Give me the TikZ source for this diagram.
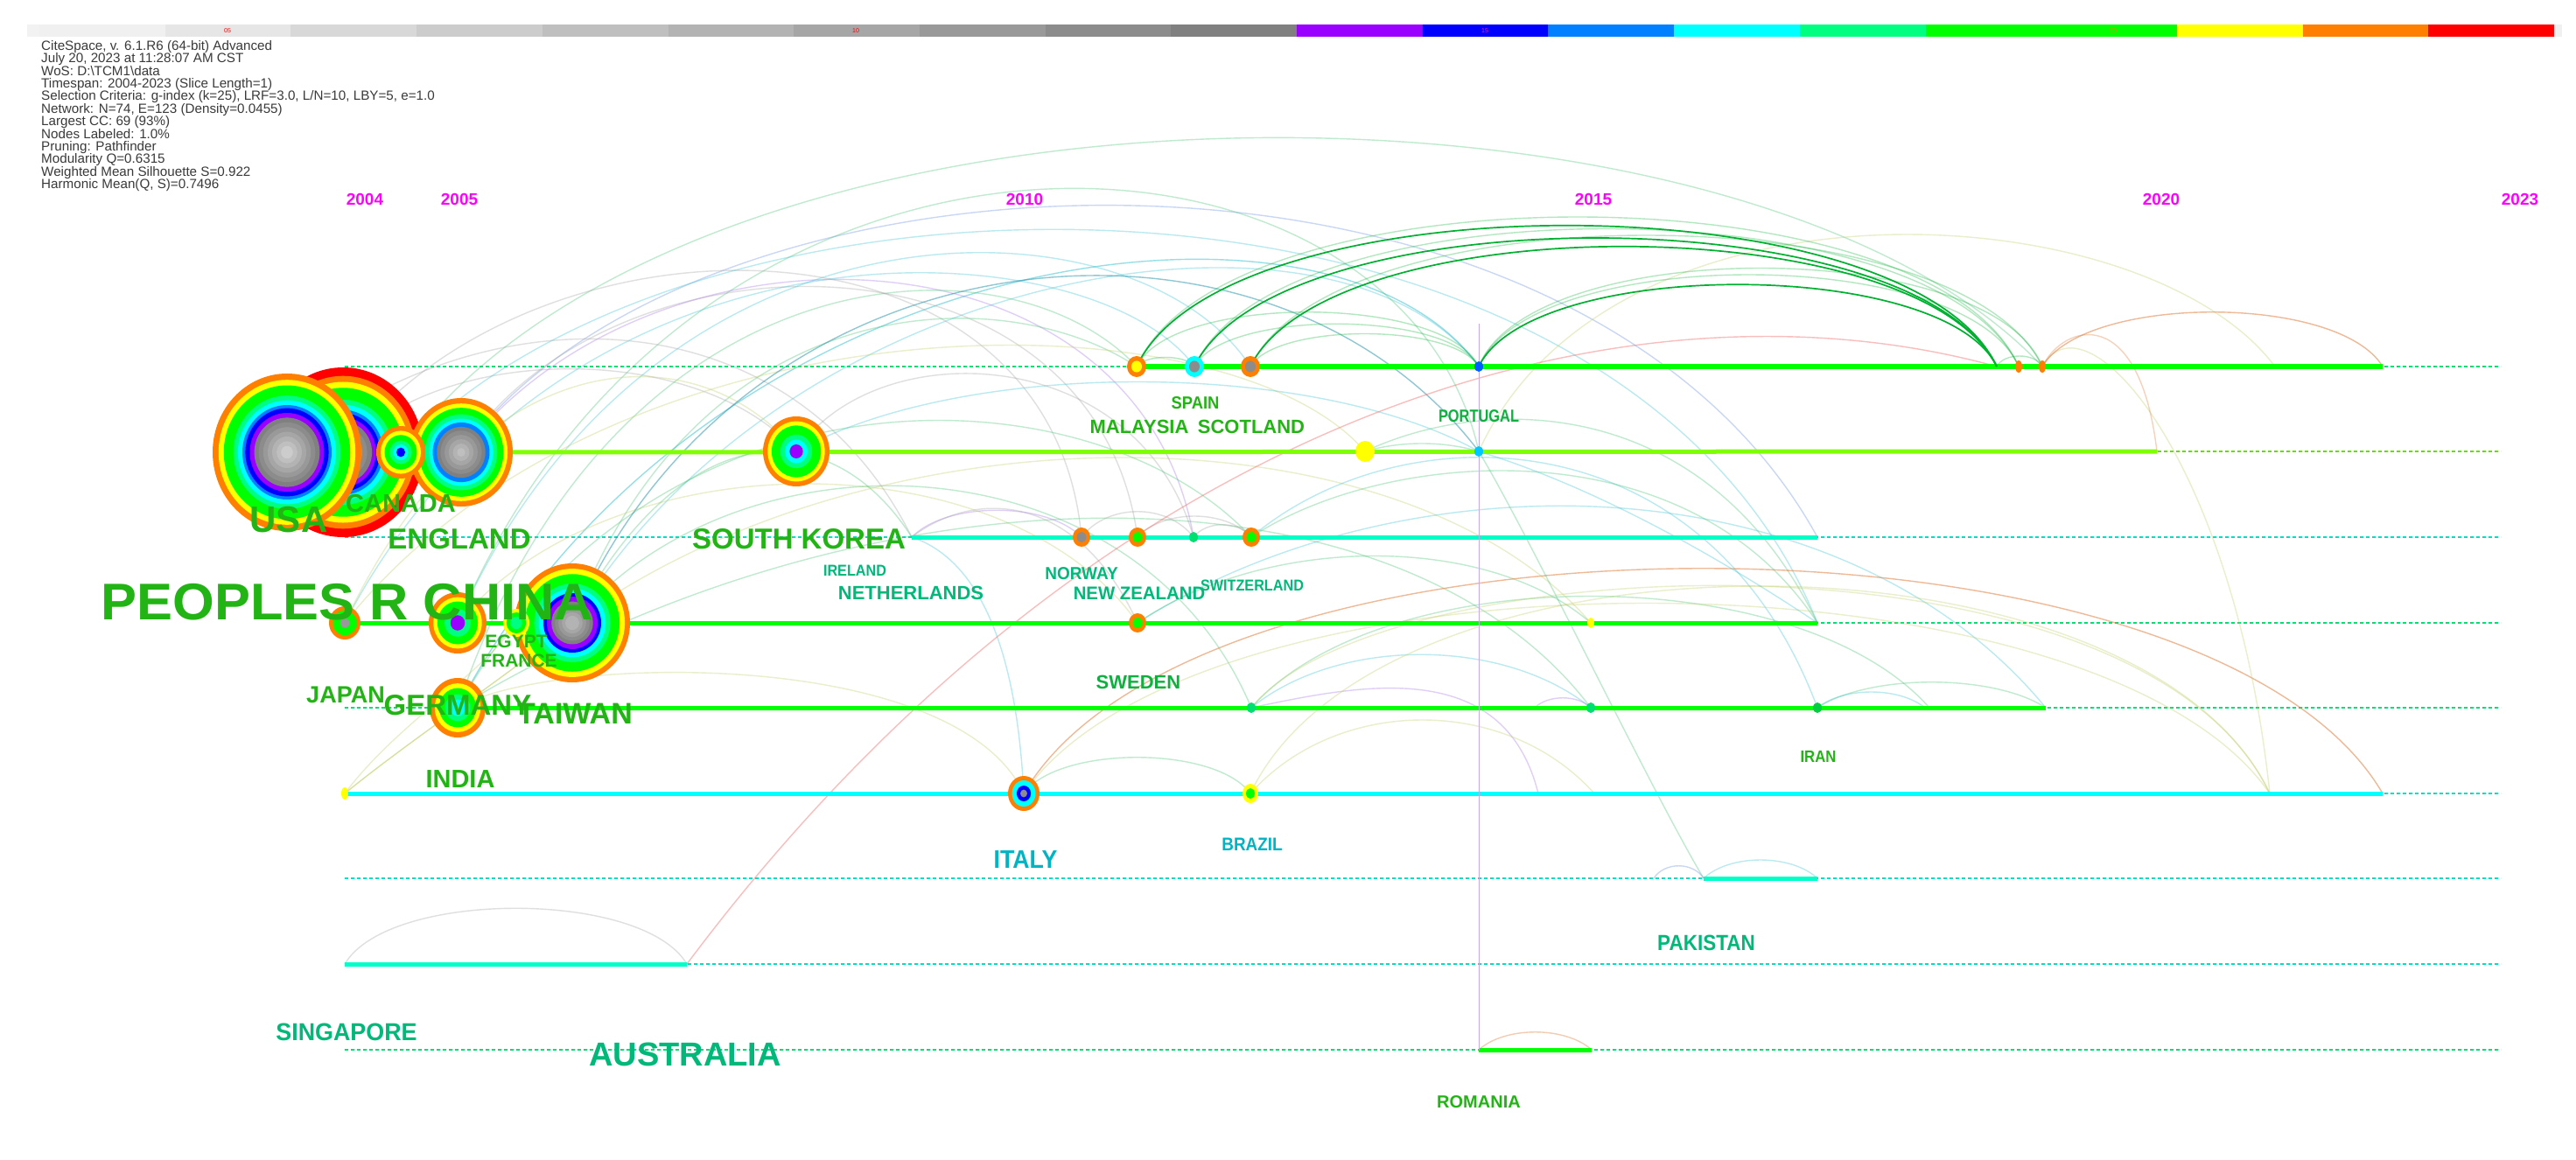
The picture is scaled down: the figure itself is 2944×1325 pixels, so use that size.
\documentclass[tikz,border=0pt]{standalone}
\usepackage{fontspec}
\setmainfont{Liberation Sans}
\usepackage{graphicx}
% palette
\definecolor{g0}{HTML}{F0F0F0}\definecolor{g1}{HTML}{E6E6E6}\definecolor{g2}{HTML}{D8D8D8}
\definecolor{g3}{HTML}{CCCCCC}\definecolor{g4}{HTML}{BFBFBF}\definecolor{g5}{HTML}{B3B3B3}
\definecolor{g6}{HTML}{A6A6A6}\definecolor{g7}{HTML}{999999}\definecolor{g8}{HTML}{8C8C8C}
\definecolor{g9}{HTML}{808080}
\definecolor{pu}{HTML}{9900FF}\definecolor{bl}{HTML}{0000FF}\definecolor{lb}{HTML}{0080FF}
\definecolor{cy}{HTML}{00FFFF}\definecolor{aq}{HTML}{00FF80}\definecolor{gr}{HTML}{00FF00}
\definecolor{ye}{HTML}{FFFF00}\definecolor{orr}{HTML}{FF8000}\definecolor{rd}{HTML}{FF0000}
\definecolor{chart}{HTML}{80FF00}\definecolor{aqline}{HTML}{00FFC8}
\definecolor{dsG}{HTML}{00E070}\definecolor{dsC}{HTML}{00E0C0}\definecolor{dsY}{HTML}{60E000}
\definecolor{acG}{HTML}{40C070}\definecolor{acC}{HTML}{30C0D0}\definecolor{acB}{HTML}{6088E0}
\definecolor{acK}{HTML}{A0A0A0}\definecolor{acP}{HTML}{A070E8}\definecolor{acY}{HTML}{C0CC60}
\definecolor{acO}{HTML}{E08040}\definecolor{acR}{HTML}{F07070}\definecolor{dkG}{HTML}{00B030}
\definecolor{acT}{HTML}{2090A8}
\definecolor{lgreen}{HTML}{22B414}\definecolor{lgreen2}{HTML}{10B040}\definecolor{lteal}{HTML}{00B87A}
\definecolor{lcyan}{HTML}{00B4C4}\definecolor{infogray}{HTML}{3A3A3A}
\definecolor{ptc}{HTML}{0060FF}\definecolor{pt1c}{HTML}{00C8FF}\definecolor{dotg}{HTML}{00E070}
\definecolor{dotg2}{HTML}{00D040}\definecolor{vline}{HTML}{C8A8F0}
\definecolor{bar15}{HTML}{FF20A0}\definecolor{yrmag}{HTML}{FF00FF}

\tikzset{
 rowline/.style={line width=5pt},
 dashrow/.style={line width=1.3pt, dash pattern=on 4pt off 3pt},
 arcl/.style={line width=1.4pt, draw opacity=0.33},
 aG/.style={arcl, draw=acG}, aC/.style={arcl, draw=acC}, aB/.style={arcl, draw=acB},
 aK/.style={arcl, draw=acK}, aP/.style={arcl, draw=acP}, aY/.style={arcl, draw=acY},
 aO/.style={arcl, draw=acO, draw opacity=0.55}, aR/.style={arcl, draw=acR, draw opacity=0.45},
 aT/.style={arcl, draw=acT, draw opacity=0.5},
 dG/.style={line width=1.7pt, draw=dkG},
 lG/.style={line width=1.4pt, draw=dkG, draw opacity=0.3},
 yearlab/.style={anchor=base, inner sep=0pt, text=yrmag, font=\fontsize{19}{19}\selectfont\bfseries},
 infolab/.style={anchor=base west, inner sep=0pt, text=infogray, font=\fontsize{15.2}{15}\selectfont},
 barlab/.style={anchor=center, inner sep=0pt, font=\fontsize{7}{7}\selectfont},
}
\newcommand\ringnode[4]{\foreach \f/\c in {#4}{\fill[\c] (#1) ellipse [x radius={(#2)*(\f)*1pt}, y radius={(#3)*(\f)*1pt}];}}
\newcommand\lab[7]{\node[anchor=base, inner sep=0pt, text=#6] (#1) at (#2,#3) {\fontsize{#4}{#4}\selectfont\bfseries\scalebox{#5}[1]{#7}};}

\begin{document}
\begin{tikzpicture}[x=1pt,y=-1pt]
\useasboundingbox (0,0) rectangle (2944,1325);
\fill[white] (0,0) rectangle (2944,1325);

% ---------- colour bar ----------
\fill[white!95!black] (31,28) rectangle (45,42);
\foreach \c [count=\i from 0] in {g0,g1,g2,g3,g4,g5,g6,g7,g8,g9,pu,bl,lb,cy,aq,gr,gr,ye,orr,rd}
  {\fill[\c] ({45+143.7*\i},28) rectangle ({45+143.7*(\i+1)},42);}
\fill[g0] (2919,28) rectangle (2928,42);
\node[barlab, text=red] (b05) at (260,35) {05};
\node[barlab, text=red] (b10) at (978,35) {10};
\node[barlab, text=bar15] (b15) at (1697,35) {15};
\node[barlab, text=orr] (b20) at (2415,35) {20};

% ---------- info text ----------
\foreach \t [count=\i from 0] in {
 {CiteSpace, v. 6.1.R6 (64-bit) Advanced},
 {July 20, 2023 at 11:28:07 AM CST},
 {WoS: D:\textbackslash TCM1\textbackslash data},
 {Timespan: 2004-2023 (Slice Length=1)},
 {Selection Criteria: g-index (k=25), LRF=3.0, L/N=10, LBY=5, e=1.0},
 {Network: N=74, E=123 (Density=0.0455)},
 {Largest CC: 69 (93\%)},
 {Nodes Labeled: 1.0\%},
 {Pruning: Pathfinder},
 {Modularity Q=0.6315},
 {Weighted Mean Silhouette S=0.922},
 {Harmonic Mean(Q, S)=0.7496}}
 {\node[infolab] (info\i) at (47,{57.5+14.36*\i}) {\t};}

% ---------- year labels ----------
\node[yearlab] (y2004) at (417,234) {2004};
\node[yearlab] (y2005) at (525,234) {2005};
\node[yearlab] (y2010) at (1171,234) {2010};
\node[yearlab] (y2015) at (1821,234) {2015};
\node[yearlab] (y2020) at (2470,234) {2020};
\node[yearlab] (y2023) at (2880,234) {2023};

% ---------- coordinates ----------
% row 0
\coordinate (m0) at (1299,419); \coordinate (s0) at (1365,419); \coordinate (sc0) at (1429,419);
\coordinate (pt0) at (1690,419); \coordinate (r0a) at (2282,419); \coordinate (r0b) at (2307,419);
\coordinate (r0c) at (2334,419); \coordinate (r0x) at (2600,419); \coordinate (r0e) at (2723,419);
% row 1
\coordinate (usa) at (328,517); \coordinate (c04) at (392,517); \coordinate (can) at (458,517);
\coordinate (eng) at (527,517); \coordinate (kor) at (910,516); \coordinate (y1) at (1560,516);
\coordinate (pt1) at (1690,516); \coordinate (r1e) at (2465,516);
% row 2
\coordinate (k2s) at (1042,614); \coordinate (no2) at (1236,614); \coordinate (nz2) at (1300,614);
\coordinate (g2) at (1364,614); \coordinate (sw2) at (1430,614); \coordinate (r2e) at (2077,614);
% row 3
\coordinate (c3a) at (394,712); \coordinate (c3b) at (523,712); \coordinate (c3c) at (590,712);
\coordinate (tw) at (654,712); \coordinate (nz3) at (1300,712); \coordinate (y3) at (1818,712);
\coordinate (r3e) at (2077,712);
% row 4
\coordinate (ger) at (523,809); \coordinate (sw4) at (1430,809); \coordinate (p4y) at (1754,809);
\coordinate (a4) at (1818,809); \coordinate (ir4) at (2077,809); \coordinate (p4z) at (2200,809);
\coordinate (p4x) at (2205,809); \coordinate (r4e) at (2338,809);
% row 5
\coordinate (in5) at (394,907); \coordinate (it5) at (1170,907); \coordinate (br5) at (1429,907);
\coordinate (p5a) at (1758,907); \coordinate (p5b) at (1822,907); \coordinate (r5x) at (2594,907);
\coordinate (r5e) at (2723,907);
% row 6-8
\coordinate (pk6x) at (1890,1004); \coordinate (pk6a) at (1947,1004); \coordinate (pk6b) at (2077,1004);
\coordinate (sg7) at (394,1102); \coordinate (au7) at (785,1102);
\coordinate (ro8a) at (1690,1200); \coordinate (ro8b) at (1819,1200);
\coordinate (vtop) at (1690,370);

% ---------- dashed timelines ----------
\foreach \n/\y/\c in {0/419/dsG,1/516/dsY,2/614/dsC,3/712/dsG,4/809/dsG,5/907/dsC,6/1004/dsC,7/1102/dsC,8/1200/dsG}
 {\coordinate (ds\n) at (394,\y); \coordinate (de\n) at (2858,\y); \draw[dashrow, draw=\c] (ds\n) -- (de\n);}

% ---------- faint links ----------
\draw[aG] (can) .. controls +(342,-467) and +(-334,-359) .. (r0c);
\draw[aB] (eng) .. controls +(273,-377) and +(-277,-504) .. (r2e);
\draw[aC, draw opacity=0.5] (ger) .. controls +(277,-529) and +(-170,-239) .. (pt0);
\draw[aC] (tw) .. controls +(246,-412) and +(-160,-219) .. (pt0);
\draw[aG] (c3b) .. controls +(277,-652) and +(-90,-406) .. (pt1);
\draw[aK] (c04) .. controls +(208,-287) and +(-36,-394) .. (no2);
\draw[aK] (eng) .. controls +(173,-267) and +(-50,-364) .. (nz2);
\draw[aP] (eng) .. controls +(223,-287) and +(-64,-364) .. (g2);
\draw[aG] (tw) .. controls +(146,-392) and +(-149,-99) .. (m0);
\draw[aK] (c04) .. controls +(108,-127) and +(-110,-126) .. (kor);
\draw[aK] (kor) .. controls +(90,-136) and +(-64,-224) .. (g2);
\draw[aC] (c3b) .. controls +(227,-512) and +(-129,-199) .. (sc0);
\draw[aC] (c3a) .. controls +(256,-492) and +(-115,-159) .. (s0);
\draw[aG] (ger) .. controls +(177,-529) and +(-149,-159) .. (m0);
\draw[aY] (c3a) .. controls +(156,-332) and +(-110,-136) .. (kor);
\draw[aY] (c3b) .. controls +(177,-212) and +(-150,-212) .. (nz3);
\draw[aG] (tw) .. controls +(196,-232) and +(-130,-309) .. (sw4);
\draw[aG] (ger) .. controls +(227,-409) and +(-180,-194) .. (sw2);
\draw[aC] (can) .. controls +(342,-367) and +(-227,-562) .. (r3e);
\draw[aK] (usa) .. controls +(222,-186) and +(-142,-284) .. (k2s);
\draw[aG] (tw) .. controls +(126,-242) and +(-92,-144) .. (k2s);
\draw[aY] (c3a) .. controls +(306,-382) and +(-160,-186) .. (y1);
\draw[aY] (tw) .. controls +(346,-252) and +(-218,-252) .. (y3);
\draw[aG] (ger) .. controls +(477,-289) and +(-218,-289) .. (a4);
\draw[aC] (kor) .. controls +(190,-106) and +(-190,-106) .. (pt1);
\draw[aG] (y1) .. controls +(140,-66) and +(-127,-262) .. (r3e);
\draw[aC] (nz3) .. controls +(300,-192) and +(-238,-289) .. (r4e);
\draw[aC] (sw2) .. controls +(170,-144) and +(-127,-339) .. (ir4);
\draw[aG] (nz3) .. controls +(150,-102) and +(-118,-102) .. (y3);
\draw[aG] (sw2) .. controls +(150,-100) and +(-150,-230) .. (r3e);
\draw[aT] (tw) .. controls +(196,-462) and +(-240,-316) .. (pt1);
\draw[aG] (y1) .. controls +(40,-12) and +(-40,-12) .. (pt1);
% row 2 local links
\draw[aP] (k2s) .. controls +(40,-41) and +(-40,-41) .. (no2);
\draw[aK] (no2) .. controls +(30,-39) and +(-30,-39) .. (g2);
\draw[aK] (nz2) .. controls +(30,-32) and +(-30,-32) .. (sw2);
\draw[aK] (g2) .. controls +(15,-19) and +(-15,-19) .. (sw2);
\draw[aK] (k2s) .. controls +(70,-54) and +(-70,-152) .. (nz3);
% row 4 / 5 links
\draw[aG] (ir4) .. controls +(60,-39) and +(-60,-39) .. (r4e);
\draw[aC] (ir4) .. controls +(30,-24) and +(-30,-24) .. (p4z);
\draw[aC] (sw4) .. controls +(100,-81) and +(-100,-81) .. (a4);
\draw[aG] (sw4) .. controls +(150,-170) and +(-150,-170) .. (p4x);
\draw[aP] (p4y) .. controls +(15,-15) and +(-15,-15) .. (a4);
\draw[aP] (sw4) .. controls +(120,-25) and +(-40,-160) .. (p5a);
\draw[aY] (br5) .. controls +(100,-112) and +(-100,-112) .. (p5b);
\draw[aY] (br5) .. controls +(150,-316) and +(-150,-316) .. (r5x);
\draw[aY] (it5) .. controls +(200,-290) and +(-200,-290) .. (r5x);
\draw[aY] (sw4) .. controls +(150,-185) and +(-150,-316) .. (r5x);
\draw[aG] (it5) .. controls +(40,-55) and +(-40,-55) .. (br5);
\draw[aC] (k2s) .. controls +(60,20) and +(-10,-200) .. (it5);
\draw[aY] (ger) .. controls +(100,-60) and +(-80,-170) .. (it5);
\draw[aY, draw opacity=0.6] (in5) .. controls +(80,-65) and +(-80,65) .. (tw);
\draw[aY] (in5) .. controls +(60,-80) and +(-40,60) .. (c3c);
\draw[aO] (it5) .. controls +(200,-343) and +(-200,-343) .. (r5e);
% right part
\draw[aY] (pt1) .. controls +(150,-330) and +(-150,-200) .. (r0x);
\draw[aY] (r0c) .. controls +(50,-89) and +(-40,-380) .. (r5x);
\draw[aO] (r0c) .. controls +(50,-83) and +(-50,-83) .. (r0e);
\draw[aO, draw opacity=0.35] (r0c) .. controls +(25,-50) and +(-20,-170) .. (r1e);
\draw[aR] (au7) .. controls (1250,480) and (1850,300) .. (r0a);
\draw[aC] (pt1) .. controls +(130,40) and +(-120,-80) .. (r3e);
\draw[aG] (pt1) .. controls +(60,100) and +(-60,-100) .. (pk6a);
% row 6-8 links
\draw[aK] (sg7) .. controls +(50,-85) and +(-50,-85) .. (au7);
\draw[aB] (pk6x) .. controls +(12,-19) and +(-12,-19) .. (pk6a);
\draw[aC] (pk6a) .. controls +(30,-28) and +(-30,-28) .. (pk6b);
\draw[aO, draw opacity=0.4] (ro8a) .. controls +(30,-27) and +(-30,-27) .. (ro8b);
% row 0 green bundle
\draw[lG] (m0) .. controls +(100,-228) and +(-100,-228) .. (r0b);
\draw[lG] (s0) .. controls +(95,-210) and +(-95,-210) .. (r0b);
\draw[lG] (sc0) .. controls +(95,-200) and +(-95,-200) .. (r0c);
\draw[lG] (pt0) .. controls +(60,-140) and +(-60,-140) .. (r0b);
\draw[lG] (pt0) .. controls +(60,-150) and +(-60,-150) .. (r0c);
\draw[lG] (m0) .. controls +(40,-83) and +(-40,-83) .. (pt0);
\draw[lG] (s0) .. controls +(35,-65) and +(-35,-65) .. (pt0);
\draw[lG] (sc0) .. controls +(30,-50) and +(-30,-50) .. (pt0);
\draw[lG] (r0a) .. controls +(8,-16) and +(-8,-16) .. (r0c);
\draw[lG] (m0) .. controls +(10,-14) and +(-10,-14) .. (s0);

% ---------- solid timelines ----------
\draw[rowline, draw=gr, line width=5.5pt] (m0) -- (r0e);
\draw[rowline, draw=chart] (c04) -- (r1e);
\draw[rowline, draw=aqline] (k2s) -- (r2e);
\draw[rowline, draw=gr] (c3a) -- (r3e);
\draw[rowline, draw=gr] (ger) -- (r4e);
\draw[rowline, draw=cy] (in5) -- (r5e);
\draw[rowline, draw=aqline] (pk6a) -- (pk6b);
\draw[rowline, draw=aqline] (sg7) -- (au7);
\draw[rowline, draw=gr] (ro8a) -- (ro8b);

% dark green arcs on row 0
\draw[dG] (m0) .. controls +(100,-215) and +(-100,-215) .. (r0a);
\draw[dG] (s0) .. controls +(95,-196) and +(-95,-196) .. (r0a);
\draw[dG] (sc0) .. controls +(90,-183) and +(-90,-183) .. (r0a);
\draw[dG] (pt0) .. controls +(60,-125) and +(-60,-125) .. (r0a);

% vertical marker
\draw[vline, line width=1pt] (vtop) -- (ro8a);

% ---------- nodes ----------
\ringnode{c04}{92}{97}{1/rd,.9/orr,.83/ye,.76/gr,.62/aq,.56/cy,.5/lb,.46/bl,.41/pu,.36/g9,.3/g8,.24/g7,.18/g6,.12/g5,.06/g4}
\ringnode{usa}{85}{90}{1/orr,.92/ye,.85/gr,.72/aq,.66/cy,.6/lb,.56/bl,.5/pu,.44/g9,.38/g8,.32/g7,.26/g6,.2/g5,.14/g4,.08/g3}
\ringnode{eng}{59}{62}{1/orr,.9/ye,.82/gr,.7/aq,.62/cy,.55/lb,.47/g9,.4/g8,.32/g7,.24/g6,.16/g5,.08/g4}
\ringnode{can}{28}{30}{1/orr,.82/ye,.66/gr,.45/aq,.3/cy,.18/bl}
\ringnode{kor}{38}{40}{1/orr,.86/ye,.74/gr,.48/aq,.34/cy,.2/pu}
\ringnode{c3a}{18}{19}{1/orr,.75/gr,.3/g7}
\ringnode{c3b}{33}{35}{1/orr,.84/ye,.7/gr,.45/aq,.25/pu}
\ringnode{tw}{66}{68}{1/orr,.91/ye,.82/gr,.66/aq,.58/cy,.5/bl,.44/pu,.36/g9,.3/g8,.24/g7,.18/g6,.12/g5}
\ringnode{c3c}{15}{16}{1/ye,.75/gr,.45/aq}
\ringnode{ger}{32}{34}{1/orr,.82/ye,.66/gr,.45/aq,.28/cy}
\ringnode{it5}{18}{20}{1/orr,.75/cy,.45/bl,.22/g8}
\ringnode{br5}{9}{11}{1/ye,.55/gr}
\ringnode{m0}{11}{12}{1/orr,.55/ye}
\ringnode{s0}{11}{12}{1/cy,.55/g8}
\ringnode{sc0}{11}{12}{1/orr,.55/g8}
\ringnode{no2}{10}{11}{1/orr,.55/g8}
\ringnode{nz2}{10}{11}{1/orr,.55/gr}
\ringnode{sw2}{10}{11}{1/orr,.55/gr}
\ringnode{nz3}{10}{11}{1/orr,.55/gr}
\ringnode{y1}{11}{12}{1/ye}
\ringnode{pt0}{5}{6}{1/ptc}
\ringnode{pt1}{5}{6}{1/pt1c}
\ringnode{g2}{5}{6}{1/dotg}
\ringnode{sw4}{5}{6}{1/dotg}
\ringnode{a4}{5}{6}{1/dotg}
\ringnode{ir4}{5}{6}{1/dotg2}
\ringnode{y3}{4}{6}{1/ye}
\ringnode{in5}{4}{7}{1/ye}
\ringnode{r0b}{4}{7}{1/orr}
\ringnode{r0c}{4}{7}{1/orr}

% ---------- labels ----------
\lab{lUSA}{330}{608}{42}{1}{lgreen}{USA}
\lab{lCAN}{458}{585}{29}{1}{lgreen}{CANADA}
\lab{lENG}{525}{627}{33}{1}{lgreen}{ENGLAND}
\lab{lKOR}{913}{627}{33}{1}{lgreen}{SOUTH KOREA}
\lab{lCHN}{397}{708}{59}{1.04}{lgreen}{PEOPLES R CHINA}
\lab{lEGY}{590}{740}{21}{1}{lgreen}{EGYPT}
\lab{lFRA}{593}{762}{21}{1}{lgreen}{FRANCE}
\lab{lJPN}{395}{803}{27}{1}{lgreen}{JAPAN}
\lab{lGER}{523}{817}{33}{1}{lgreen}{GERMANY}
\lab{lTWN}{657}{827}{34}{1}{lgreen}{TAIWAN}
\lab{lIND}{526}{900}{29}{1}{lgreen}{INDIA}
\lab{lSPA}{1366}{467}{20}{.92}{lgreen}{SPAIN}
\lab{lMAL}{1302}{495}{22}{1}{lgreen}{MALAYSIA}
\lab{lSCO}{1430}{495}{22}{1}{lgreen}{SCOTLAND}
\lab{lPOR}{1690}{482}{20}{.82}{lgreen2}{PORTUGAL}
\lab{lIRE}{977}{658}{18}{.9}{lteal}{IRELAND}
\lab{lNET}{1041}{685}{22}{1}{lteal}{NETHERLANDS}
\lab{lNOR}{1236}{662}{20}{.95}{lteal}{NORWAY}
\lab{lNZL}{1302}{685}{21}{.97}{lteal}{NEW ZEALAND}
\lab{lSWI}{1431}{675}{18}{.9}{lteal}{SWITZERLAND}
\lab{lSWE}{1301}{787}{22}{1}{lgreen2}{SWEDEN}
\lab{lITA}{1172}{992}{29}{.92}{lcyan}{ITALY}
\lab{lBRA}{1431}{972}{21}{.9}{lcyan}{BRAZIL}
\lab{lSIN}{396}{1189}{28}{.96}{lteal}{SINGAPORE}
\lab{lAUS}{783}{1218}{38}{1}{lteal}{AUSTRALIA}
\lab{lIRN}{2078}{871}{19}{.88}{lgreen}{IRAN}
\lab{lPAK}{1950}{1086}{25}{.9}{lteal}{PAKISTAN}
\lab{lROM}{1690}{1266}{20}{1}{lgreen}{ROMANIA}
\end{tikzpicture}
\end{document}
